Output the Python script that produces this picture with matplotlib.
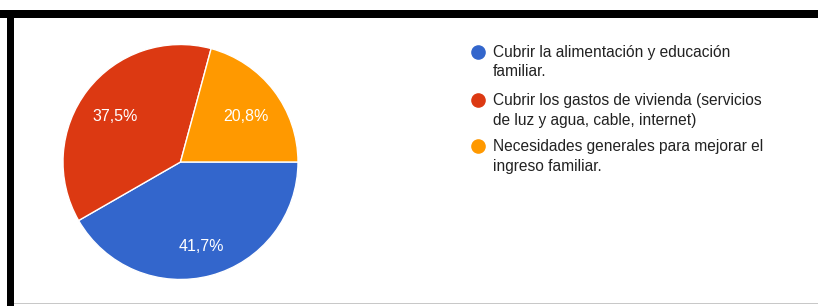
import numpy as np
import matplotlib
matplotlib.use("Agg")
import matplotlib.pyplot as plt
from matplotlib.patches import Rectangle
from matplotlib.transforms import offset_copy

plt.rcParams['font.family'] = ['Liberation Sans', 'DejaVu Sans']

# datos
categorias = [
    "Cubrir la alimentación y educación\nfamiliar.",
    "Cubrir los gastos de vivienda (servicios\nde luz y agua, cable, internet)",
    "Necesidades generales para mejorar el\ningreso familiar.",
]
valores = [41.7, 37.5, 20.8]
etiquetas = ["41,7%", "37,5%", "20,8%"]
colores = ["#3366cc", "#dc3912", "#ff9900"]

W, H = 818, 306
fig = plt.figure(figsize=(W / 100, H / 100), dpi=100)

# marco (captura de pantalla)
fig.patches.append(Rectangle((0, (H - 18) / H), 1, 8 / H, transform=fig.transFigure,
                             facecolor="black", edgecolor="none"))
fig.patches.append(Rectangle((7 / W, 0), 7 / W, (H - 10) / H, transform=fig.transFigure,
                             facecolor="black", edgecolor="none"))
fig.patches.append(Rectangle((14 / W, 2 / H), 1, 1.5 / H, transform=fig.transFigure,
                             facecolor="#c8c8c8", edgecolor="none"))

# pastel
cx, cy, r = 180.5, H - 162, 117.5
ax = fig.add_axes([(cx - r) / W, (cy - r) / H, 2 * r / W, 2 * r / H])
wedges, _ = ax.pie(valores, colors=colores, startangle=0, counterclock=False,
                   radius=1, wedgeprops=dict(edgecolor="white", linewidth=1))
trans = offset_copy(ax.transData, fig=fig, x=0, y=-5, units="dots")
for w, et in zip(wedges, etiquetas):
    ang = np.deg2rad((w.theta1 + w.theta2) / 2)
    ax.text(0.7 * np.cos(ang), 0.7 * np.sin(ang), et, color="white",
            fontsize=11.5, ha="center", va="center", transform=trans)
ax.set_xlim(-1, 1)
ax.set_ylim(-1, 1)
ax.axis("off")

# leyenda (coordenadas en píxeles)
lax = fig.add_axes([0, 0, 1, 1])
lax.set_xlim(0, W)
lax.set_ylim(H, 0)
lax.axis("off")
y0 = [52, 100, 146]
for c, cat, y in zip(colores, categorias, y0):
    lax.plot(478, y, marker="o", markersize=9.5, color=c, linestyle="none")
    for k, linea in enumerate(cat.split("\n")):
        lax.text(493, y + 20 * k, linea, fontsize=11.2, color="#222222",
                 ha="left", va="center")

fig.savefig("out.png", dpi=100, facecolor="white")
